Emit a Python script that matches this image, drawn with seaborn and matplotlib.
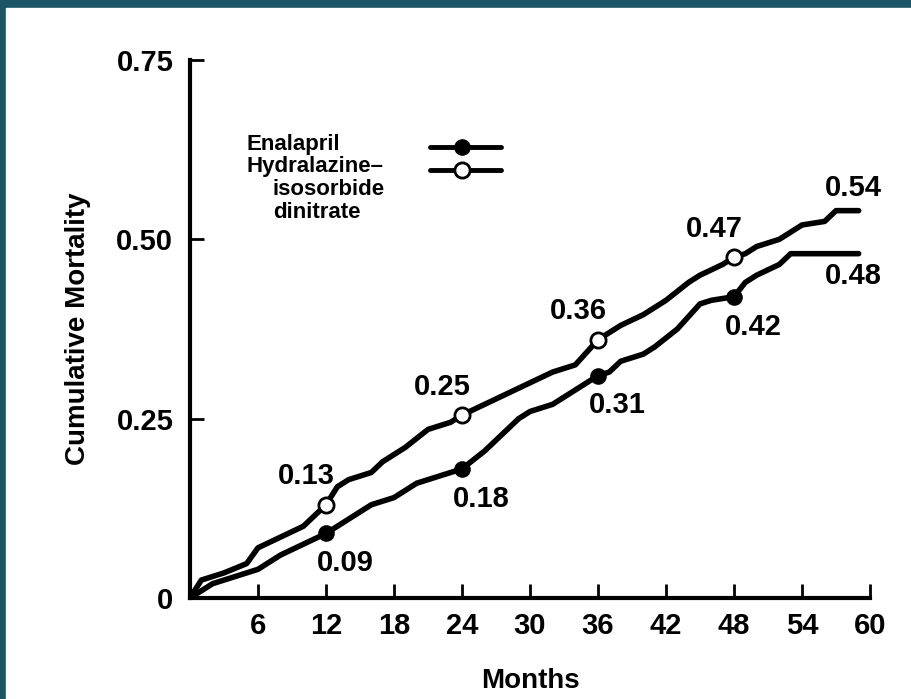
import numpy as np
import pandas as pd
import matplotlib.pyplot as plt
import seaborn as sns

months_hyd = [0, 1, 3, 5, 6, 8, 10, 11, 12, 13, 14, 16, 17, 19, 21, 23, 24, 26, 28, 30, 32, 34,
              36, 38, 40, 42, 44, 45, 47, 48, 49, 50, 52, 54, 56, 57, 59]
mort_hyd = [0, 0.025, 0.035, 0.048, 0.07, 0.085, 0.10, 0.115, 0.13, 0.155, 0.165, 0.175, 0.19,
            0.21, 0.235, 0.245, 0.255, 0.27, 0.285, 0.30, 0.315, 0.325, 0.36, 0.38, 0.395, 0.415,
            0.44, 0.45, 0.465, 0.475, 0.48, 0.49, 0.50, 0.52, 0.525, 0.54, 0.54]
months_ena = [0, 2, 4, 6, 8, 10, 12, 13, 14, 16, 18, 20, 22, 24, 26, 27, 29, 30, 32, 34, 36, 37,
              38, 40, 41, 43, 45, 46, 48, 49, 50, 52, 53, 59]
mort_ena = [0, 0.02, 0.03, 0.04, 0.06, 0.075, 0.09, 0.10, 0.11, 0.13, 0.14, 0.16, 0.17, 0.18,
            0.205, 0.22, 0.25, 0.26, 0.27, 0.29, 0.31, 0.315, 0.33, 0.34, 0.35, 0.375, 0.41,
            0.415, 0.42, 0.44, 0.45, 0.465, 0.48, 0.48]
mark_months = [12, 24, 36, 48]
mark_hyd = [0.13, 0.255, 0.36, 0.475]
mark_ena = [0.09, 0.18, 0.31, 0.42]
lab_hyd = ["0.13", "0.25", "0.36", "0.47"]
lab_ena = ["0.09", "0.18", "0.31", "0.42"]

sns.set_style("ticks")
plt.rcParams['font.family'] = ['Liberation Sans', 'DejaVu Sans']
plt.rcParams['font.weight'] = 'bold'
plt.rcParams['text.color'] = 'black'
plt.rcParams['axes.labelcolor'] = 'black'
plt.rcParams['xtick.color'] = 'black'
plt.rcParams['ytick.color'] = 'black'
plt.rcParams['axes.edgecolor'] = 'black'

fig = plt.figure(figsize=(9.11, 6.99), dpi=100, facecolor="#1b5566")
fig.patches.append(plt.Rectangle((6 / 911, 0), 1, 1 - 8 / 699, transform=fig.transFigure,
                                 facecolor="white", zorder=-1))
ax = fig.add_axes([190 / 911, 101 / 699, 680 / 911, 538 / 699])
ax.set_facecolor("none")

sns.lineplot(x=months_hyd, y=mort_hyd, ax=ax, color="black", linewidth=4)
sns.lineplot(x=months_ena, y=mort_ena, ax=ax, color="black", linewidth=4)
ax.scatter(mark_months, mark_hyd, s=120, facecolor="white", edgecolor="black", linewidth=2, zorder=5)
ax.scatter(mark_months, mark_ena, s=120, facecolor="black", edgecolor="black", zorder=5)

fs = 21
for m, v, t in zip(mark_months, mark_hyd, lab_hyd):
    ax.text(m - 1.7, v + 0.02, t, fontsize=fs, ha="center", va="bottom")
for m, v, t in zip(mark_months, mark_ena, lab_ena):
    ax.text(m + 1.7, v - 0.022, t, fontsize=fs, ha="center", va="top")
ax.text(months_hyd[-1] - 0.5, mort_hyd[-1] + 0.012, "0.54", fontsize=fs, ha="center", va="bottom")
ax.text(months_ena[-1] - 0.5, mort_ena[-1] - 0.012, "0.48", fontsize=fs, ha="center", va="top")

# legend drawn by hand
lfs = 16
ax.text(5.0, 0.632, "Enalapril", fontsize=lfs, va="center")
ax.text(5.0, 0.601, "Hydralazine\u2013", fontsize=lfs, va="center")
ax.text(7.3, 0.569, "isosorbide", fontsize=lfs, va="center")
ax.text(7.3, 0.537, "dinitrate", fontsize=lfs, va="center")
ax.plot([21.2, 27.4], [0.629, 0.629], color="black", lw=3.5)
ax.plot([21.2, 27.4], [0.597, 0.597], color="black", lw=3.5)
ax.scatter([24], [0.629], s=120, color="black", zorder=5)
ax.scatter([24], [0.597], s=120, facecolor="white", edgecolor="black", linewidth=2, zorder=5)

ax.set_xlim(0, 60)
ax.set_ylim(0, 0.75)
ax.set_xticks(range(6, 61, 6))
ax.set_yticks([0, 0.25, 0.5, 0.75])
ax.set_yticklabels(["0", "0.25", "0.50", "0.75"])
ax.tick_params(direction="in", length=10, width=2, labelsize=fs, pad=12)
ax.tick_params(axis="x", pad=10)
sns.despine(ax=ax)
for s in ["left", "bottom"]:
    ax.spines[s].set_linewidth(3)
ax.set_xlabel("Months", fontsize=20, labelpad=20, fontweight="bold")
ax.set_ylabel("Cumulative Mortality", fontsize=20, labelpad=18, fontweight="bold")

fig.savefig("out.png", dpi=100, facecolor=fig.get_facecolor())
